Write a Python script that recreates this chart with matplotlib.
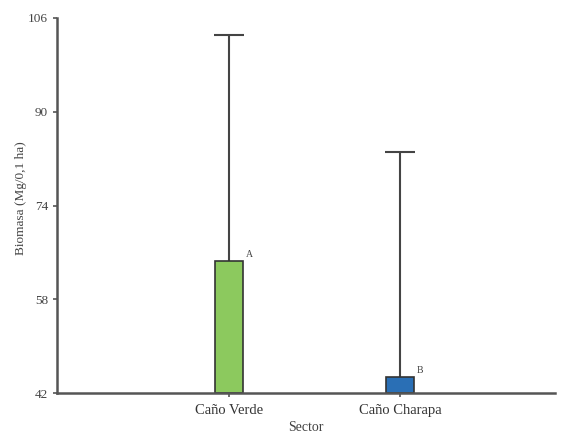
import matplotlib
matplotlib.use("Agg")
import matplotlib.pyplot as plt

categories = ["Caño Verde", "Caño Charapa"]
means = [64.5, 44.7]
err_upper = [38.6, 38.4]
letters = ["A", "B"]
colors = ["#8cc95e", "#2a6fb5"]
yticks = [42, 58, 74, 90, 106]

plt.rcParams['font.family'] = ['Liberation Serif', 'DejaVu Serif']

fig = plt.figure(figsize=(5.65, 4.37), dpi=100)
ax = fig.add_axes([57/565, 1-393/437, (555-57)/565, (393-18)/437])

base = 42
x = list(range(len(categories)))
heights = [m - base for m in means]
tops = [m + e for m, e in zip(means, err_upper)]
ax.bar(x, heights, bottom=base, width=0.165, color=colors, edgecolor="#333333", linewidth=1.2, zorder=2)
ax.errorbar(x, means, yerr=[[0]*len(means), err_upper], fmt="none", ecolor="#444444",
            elinewidth=1.5, capsize=0, zorder=1)
ax.plot(x, tops, linestyle="none", marker="_", markersize=22, markeredgewidth=1.5,
        color="#444444", zorder=1)
for xi, m, l in zip(x, means, letters):
    ax.text(xi + 0.1, m + 0.3, l, fontsize=7, color="#444444", ha="left", va="bottom")

ax.set_ylim(42, 106)
ax.set_xlim(-1.006, 1.906)
ax.set_yticks(yticks)
ax.set_xticks(x)
ax.set_xticklabels(categories, fontsize=10.5, color="#333333")
ax.tick_params(axis='y', labelsize=9.5, labelcolor="#444444", length=3, width=1.2, color="#555555")
ax.tick_params(axis='x', length=3, width=1.2, color="#555555", pad=5)
for s in ["top", "right"]:
    ax.spines[s].set_visible(False)
for s in ["left", "bottom"]:
    ax.spines[s].set_linewidth(1.8)
    ax.spines[s].set_color("#555555")
ax.set_ylabel("Biomasa (Mg/0,1 ha)", fontsize=9.5, color="#444444")
ax.yaxis.set_label_coords(-0.06, 0.52)
ax.set_xlabel("Sector", fontsize=10, color="#444444", labelpad=3)

fig.savefig("out.png", dpi=100)
